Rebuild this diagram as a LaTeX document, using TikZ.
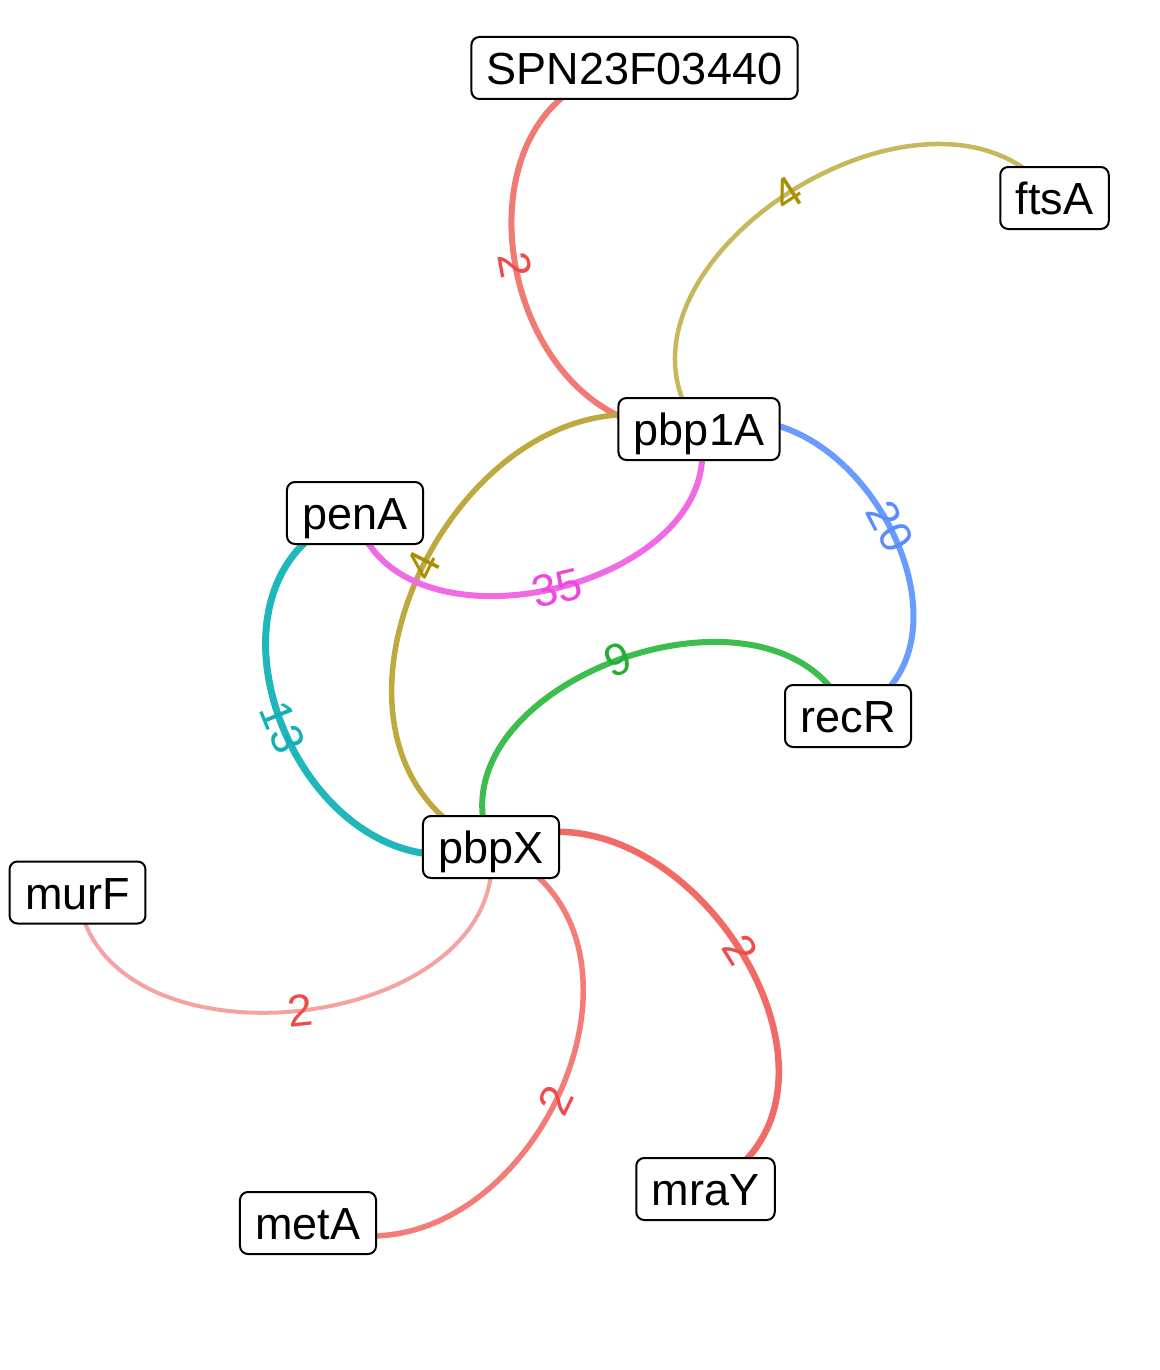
\documentclass[tikz,border=0pt]{standalone}
\usepackage{fontspec}
\setmainfont{Liberation Sans}
\pgfdeclarelayer{edgelayer}
\pgfdeclarelayer{labellayer}
\pgfsetlayers{edgelayer,labellayer,main}
\definecolor{eRedA}{HTML}{F27A74}
\definecolor{eRedB}{HTML}{F47C78}
\definecolor{eRedC}{HTML}{F26A65}
\definecolor{eRedL}{HTML}{F4A3A0}
\definecolor{lRed}{HTML}{EE4B4B}
\definecolor{eOliveA}{HTML}{C8B85C}
\definecolor{eOliveB}{HTML}{BDA93E}
\definecolor{lOlive}{HTML}{A89000}
\definecolor{eMag}{HTML}{F06AE6}
\definecolor{lMag}{HTML}{EE46DE}
\definecolor{eBlue}{HTML}{6A9BFF}
\definecolor{lBlue}{HTML}{5B8CFF}
\definecolor{eGreen}{HTML}{3DBD4E}
\definecolor{lGreen}{HTML}{22B033}
\definecolor{eTeal}{HTML}{1FB7BA}
\definecolor{lTeal}{HTML}{12AFB3}
\tikzset{
  gene/.style={draw=black, line width=2pt, rounded corners=8pt, fill=white,
    inner xsep=15.5pt, inner ysep=14.5pt, text height=33pt, text depth=0pt,
    font=\fontsize{45}{54}\selectfont},
  elabel/.style={inner sep=0pt, font=\fontsize{45}{54}\selectfont},
}
\newcommand{\gedge}[8]{%
  \begin{pgfonlayer}{edgelayer}
    \draw[line width=#6, draw=#5] (#1.center) .. controls +(#3,#4) and +(#3,#4) .. (#2.center);
  \end{pgfonlayer}
  \begin{pgfonlayer}{labellayer}
    \path (#1.center) .. controls +(#3,#4) and +(#3,#4) .. (#2.center)
      node[elabel, text=#7, pos=0.5, sloped] {#8};
  \end{pgfonlayer}}
\begin{document}
\begin{tikzpicture}[x=1pt, y=-1pt]
\useasboundingbox (0,0) rectangle (1159,1370);
\node[gene] (spn) at (634.5,68) {SPN23F03440};
\node[gene] (ftsA) at (1054.5,198) {ftsA};
\node[gene] (pbp1A) at (699,429) {pbp1A};
\node[gene] (penA) at (355,513) {penA};
\node[gene] (recR) at (848,716) {recR};
\node[gene] (pbpX) at (491,847) {pbpX};
\node[gene] (murF) at (77.5,892.5) {murF};
\node[gene] (metA) at (308,1223) {metA};
\node[gene] (mraY) at (705.5,1189) {mraY};
\gedge{spn}{pbp1A}{-202}{22}{eRedA}{6pt}{lRed}{2}
\gedge{pbp1A}{ftsA}{-119}{-160}{eOliveA}{4.5pt}{lOlive}{4}
\gedge{pbp1A}{pbpX}{-229}{-97}{eOliveB}{5.5pt}{lOlive}{4}
\gedge{pbp1A}{penA}{40}{156}{eMag}{6pt}{lMag}{35}
\gedge{pbp1A}{recR}{155}{-61}{eBlue}{6pt}{lBlue}{20}
\gedge{recR}{pbpX}{-69}{-162}{eGreen}{6pt}{lGreen}{9}
\gedge{penA}{pbpX}{-187}{63}{eTeal}{7pt}{lTeal}{13}
\gedge{pbpX}{murF}{21}{188}{eRedL}{4pt}{lRed}{2}
\gedge{pbpX}{metA}{209}{87}{eRedB}{5.5pt}{lRed}{2}
\gedge{pbpX}{mraY}{189}{-91}{eRedC}{6.5pt}{lRed}{2}
\end{tikzpicture}
\end{document}
